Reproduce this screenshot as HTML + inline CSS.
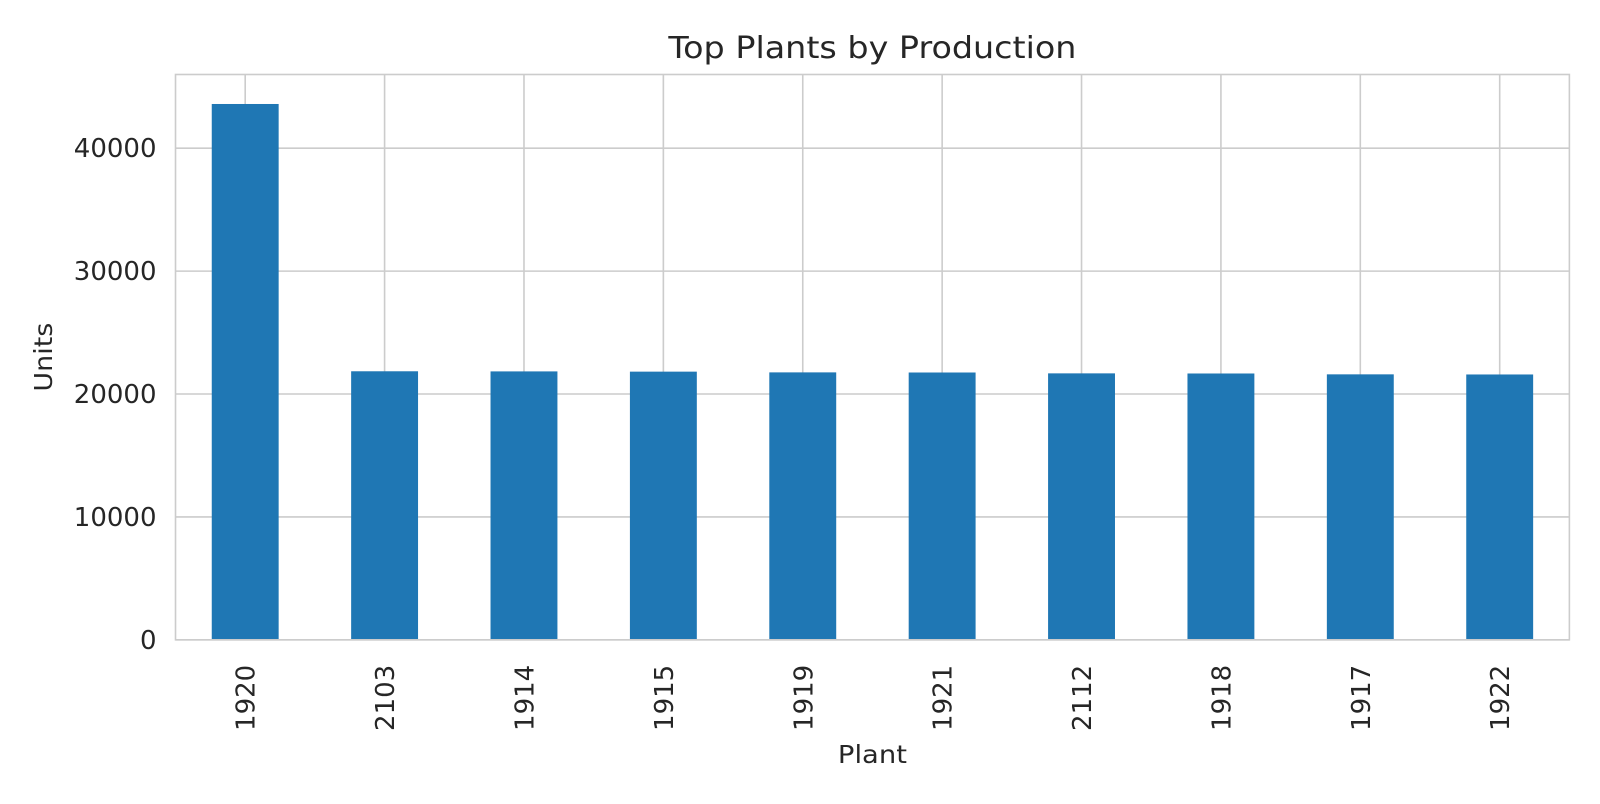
<!DOCTYPE html>
<html><head><meta charset="utf-8"><style>
body{margin:0;background:#fff;font-family:"DejaVu Sans","Liberation Sans",sans-serif}
</style></head><body>
<svg id="c" width="1600" height="800" font-family="DejaVu Sans, Liberation Sans, sans-serif"></svg>
<script>
const categories=["1920","2103","1914","1915","1919","1921","2112","1918","1917","1922"];
const values=[43600,21850,21840,21820,21760,21750,21680,21670,21600,21590];
const yTicks=[0,10000,20000,30000,40000];
const NS="http://www.w3.org/2000/svg";
const svg=document.getElementById('c');
const S=1600/1568;
const L=172*S,R=1538*S,T=73*S,B=627*S,yMax=46000;
const y=v=>B-(B-T)*v/yMax;
const step=(R-L)/categories.length;
const x=i=>L+step*(i+0.5);
function mk(t,a,txt){const e=document.createElementNS(NS,t);for(const k in a)e.setAttribute(k,a[k]);if(txt!==undefined)e.textContent=txt;svg.appendChild(e);return e;}
yTicks.forEach(v=>{const g=mk('line',{x1:L,x2:R,y1:y(v),y2:y(v),stroke:'#cccccc','stroke-width':1.6});


const t=mk('text',{x:L-19,y:y(v)+9,'text-anchor':'end','font-size':26,fill:'#262626'},String(v));

});
categories.forEach((c,i)=>{const g=mk('line',{x1:x(i),x2:x(i),y1:T,y2:B,stroke:'#cccccc','stroke-width':1.6});

});
categories.forEach((c,i)=>{const w=step*0.48;
const b=mk('rect',{x:x(i)-w/2,y:y(values[i]),width:w,height:B-y(values[i]),fill:'#1f77b4'});


const t=mk('text',{transform:`translate(${x(i)+9.5},${B+25}) rotate(-90)`,'text-anchor':'end','font-size':26,fill:'#262626'},c);

});
const fr=mk('rect',{x:L,y:T,width:R-L,height:B-T,fill:'none',stroke:'#cccccc','stroke-width':1.6});


const ti=mk('text',{x:(L+R)/2,y:58,'text-anchor':'middle','font-size':30,fill:'#262626',textLength:408,lengthAdjust:'spacingAndGlyphs'},'Top Plants by Production');


const xl=mk('text',{x:(L+R)/2,y:763,'text-anchor':'middle','font-size':25,fill:'#262626',textLength:69,lengthAdjust:'spacingAndGlyphs'},'Plant');


const yl=mk('text',{transform:`translate(52,${(T+B)/2}) rotate(-90)`,'text-anchor':'middle','font-size':25,fill:'#262626',textLength:69,lengthAdjust:'spacingAndGlyphs'},'Units');


</script>
</body></html>
